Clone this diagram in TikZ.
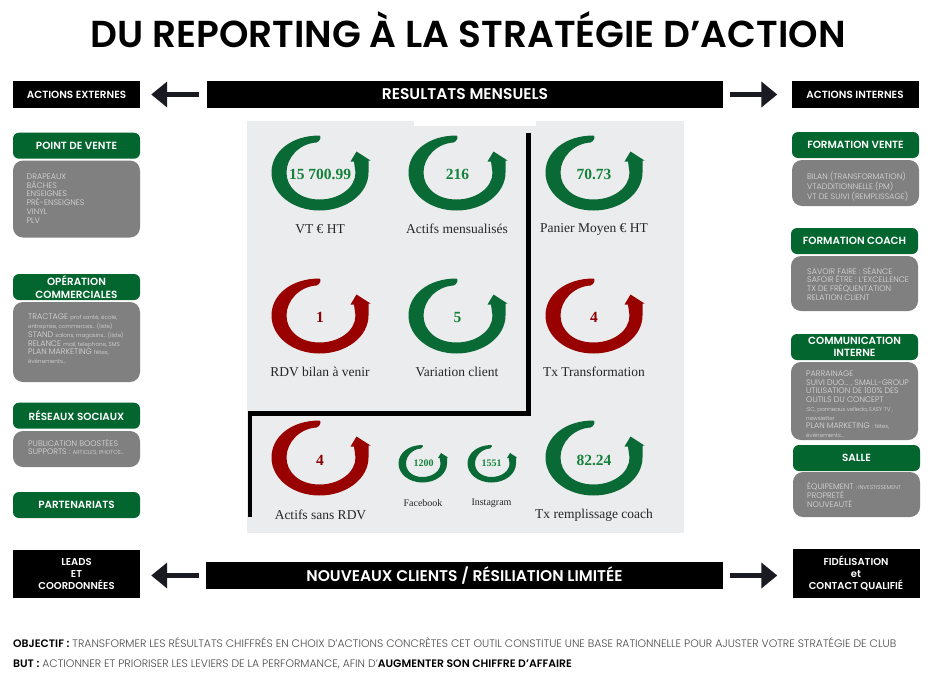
\documentclass[tikz,border=0pt]{standalone}
\usepackage{fontspec}
\setmainfont{Poppins}
\newfontfamily\semi{Poppins SemiBold}
\newfontfamily\med{Poppins Medium}
\newfontfamily\lite{Poppins Light}
\newfontfamily\serifx{Liberation Serif}
\usetikzlibrary{arrows.meta}
\definecolor{boxgreen}{HTML}{03662F}
\definecolor{ringgreen}{HTML}{0A6A35}
\definecolor{ringred}{HTML}{990000}
\definecolor{numgreen}{HTML}{14823A}
\definecolor{numred}{HTML}{8B0000}
\definecolor{panelgrey}{HTML}{EBECEE}
\definecolor{boxgrey}{HTML}{808080}
\definecolor{softtext}{HTML}{DCDCDC}
\definecolor{arrowink}{HTML}{1A1A22}
\definecolor{bodyink}{HTML}{4A4A4A}
\newcommand{\fsz}[1]{\fontsize{#1}{#1}\selectfont}
\newcommand{\sm}[1]{{\fontsize{5.6}{8.7}\selectfont #1}}
\newcommand{\ringshape}[4]{%
  \begin{scope}[shift={(#1,#2)},scale=#3]
  \fill[#4] (0,-37) .. controls (-28,-37) and (-48,-21) .. (-48,0)
    .. controls (-48,21) and (-27,38) .. (0,38)
    .. controls (27,38) and (49,21) .. (49,0)
    -- (49,-12) -- (51,-12) -- (37,-21) -- (31,-11) -- (34.5,-11) -- (36,0)
    .. controls (36,15) and (20,27) .. (0,27)
    .. controls (-20,27) and (-33,15) .. (-33,0)
    .. controls (-33,-15) and (-20,-29) .. (-3,-30)
    .. controls (1,-31) and (2,-37) .. (0,-37) -- cycle;
  \end{scope}}
\tikzset{
  blackbar/.style={fill=black,text=white,inner sep=0pt,align=center,font=\semi\fsz{#1}},
  blackbar/.default=10,
  tallbar/.style={fill=black,text=white,inner sep=0pt,align=center,minimum width=127pt,
     font=\semi\fontsize{10}{11.9}\selectfont},
  greenbox/.style={fill=boxgreen,text=white,rounded corners=6pt,inner sep=0pt,align=center,
     minimum width=127pt,minimum height=26pt,font=\semi\fontsize{10.4}{12.2}\selectfont},
  greybox/.style={fill=boxgrey,rounded corners=10pt,inner sep=0pt,minimum width=127pt},
  softlist/.style={anchor=north west,text=softtext,inner sep=0pt,align=left,
     font=\lite\fontsize{8}{8.75}\selectfont},
  metric/.style={font=\serifx\fontsize{13.5}{14}\selectfont,text=black!85,inner sep=0pt},
  minimetric/.style={font=\serifx\fontsize{10}{11}\selectfont,text=black!85,inner sep=0pt},
  valgreen/.style={font=\serifx\bfseries\fontsize{15.5}{16}\selectfont,text=numgreen,inner sep=0pt},
  valred/.style={font=\serifx\bfseries\fontsize{15.5}{16}\selectfont,text=numred,inner sep=0pt},
  minival/.style={font=\serifx\bfseries\fontsize{10}{11}\selectfont,text=numgreen,inner sep=0pt},
  blockarrow/.style={draw=arrowink,line width=5pt,-{Triangle[length=16pt,width=25pt]}},
  footer/.style={anchor=base west,inner sep=0pt,text=bodyink,font=\lite\fsz{10.85}},
}
\begin{document}
\begin{tikzpicture}[x=1pt,y=-1pt]
\useasboundingbox (0,0) rectangle (931,675);
\fill[white] (0,0) rectangle (931,675);

\node[inner sep=0pt,font=\semi\fsz{37.5}] (title) at (468,29.5) {DU REPORTING À LA STRATÉGIE D’ACTION};

% panel
\fill[panelgrey] (247,121) rectangle (684,533);
\fill[white] (414,121) rectangle (536,126);
\draw[black,line width=4.8pt] (528.5,133) |- (250,413.5) -- (250,517);

% header bars
\node[blackbar=15.5,minimum width=516pt,minimum height=27pt] (res) at (465,94.5) {RESULTATS MENSUELS};
\node[blackbar=15.5,minimum width=517pt,minimum height=27pt] (nouv) at (464.5,575.5) {NOUVEAUX CLIENTS / RÉSILIATION LIMITÉE};
\node[blackbar=10.4,minimum width=127pt,minimum height=27pt] (ext) at (76.5,94.5) {ACTIONS EXTERNES};
\node[blackbar=10.4,minimum width=127pt,minimum height=27pt] (int) at (855,94.5) {ACTIONS INTERNES};
\node[tallbar,minimum height=48pt] (leads) at (76.5,574) {LEADS\\ET\\COORDONNÉES};
\node[tallbar,minimum height=49pt] (fid) at (856,573.5) {FIDÉLISATION\\et\\CONTACT QUALIFIÉ};

% arrows
\draw[blockarrow,shorten <=8pt,shorten >=11pt] (res.west) -- (ext.east);
\draw[blockarrow,shorten <=7pt,shorten >=14pt] (res.east) -- (int.west);
\draw[blockarrow,shorten <=7pt,shorten >=11pt] (nouv.west) -- (leads.east |- nouv.west);
\draw[blockarrow,shorten <=7pt,shorten >=15pt] (nouv.east) -- (fid.west |- nouv.east);

% left column
\node[greenbox] (pv) at (76.5,145.7) {POINT DE VENTE};
\node[greybox,minimum height=77pt] (pvb) at (76.5,199) {};
\node[softlist] (pvt) at (26.5,173.5) {DRAPEAUX\\BÂCHES\\ENSEIGNES\\PRÉ-ENSEIGNES\\VINYL\\PLV};

\node[greenbox] (op) at (76.5,287) {OPÉRATION\\COMMERCIALES};
\node[greybox,minimum height=80pt] (opb) at (76.5,342) {};
\node[softlist] (opt) at (28,314) {TRACTAGE \sm{prof santé, école,}\\\sm{entreprise, commerces… (liste)}\\STAND \sm{salons, magasins… (liste)}\\RELANCE \sm{mail, telephone, SMS}\\PLAN MARKETING \sm{fêtes,}\\\sm{événements…}};

\node[greenbox] (rs) at (76.5,415.7) {RÉSEAUX SOCIAUX};
\node[greybox,minimum height=36pt] (rsb) at (76.5,449) {};
\node[softlist] (rst) at (28,438.5) {PUBLICATION BOOSTÉES\\SUPPORTS : \sm{ARTICLES, PHOTOS…}};

\node[greenbox] (pa) at (76.5,505) {PARTENARIATS};

% right column
\node[greenbox] (fv) at (855.5,145) {FORMATION VENTE};
\node[greybox,minimum height=46pt] (fvb) at (855.5,183) {};
\node[softlist] (fvt) at (807,171.5) {BILAN (TRANSFORMATION)\\VTADDITIONNELLE (PM)\\VT DE SUIVI (REMPLISSAGE)};

\node[greenbox] (fc) at (854.5,241) {FORMATION COACH};
\node[greybox,minimum height=55pt] (fcb) at (854.5,283.5) {};
\node[softlist] (fct) at (807,266.5) {SAVOIR FAIRE : SÉANCE\\SAFOIR ÊTRE : L’EXCELLENCE\\TX DE FRÉQUENTATION\\RELATION CLIENT};

\node[greenbox] (ci) at (854.5,347) {COMMUNICATION\\INTERNE};
\node[greybox,minimum height=78pt] (cib) at (854.5,401) {};
\node[softlist] (cit) at (806,370.5) {PARRAINAGE\\SUIVI DUO… , SMALL-GROUP\\UTILISATION DE 100\% DES\\OUTILS DU CONCEPT\\\sm{:SC, panneaux velleda, EASY TV ,}\\\sm{newsletter}\\PLAN MARKETING \sm{: fêtes,}\\\sm{événements…}};

\node[greenbox] (sa) at (856.5,458) {SALLE};
\node[greybox,minimum height=45pt] (sab) at (856.5,494.5) {};
\node[softlist] (sat) at (807,482) {ÉQUIPEMENT \sm{: INVESTISSEMENT}\\PROPRETÉ\\NOUVEAUTÉ};

% rings
\ringshape{319.5}{172.5}{1}{ringgreen}
\ringshape{456.5}{172.5}{1}{ringgreen}
\ringshape{593.5}{172.5}{1}{ringgreen}
\ringshape{319.5}{315.5}{1}{ringred}
\ringshape{456.5}{315.5}{1}{ringgreen}
\ringshape{593.5}{315.5}{1}{ringred}
\ringshape{319.5}{457.5}{1}{ringred}
\ringshape{422.5}{463.5}{0.5}{ringgreen}
\ringshape{491.5}{463.5}{0.5}{ringgreen}
\ringshape{593.5}{457.5}{1}{ringgreen}

\node[valgreen] (v1) at (320,174.5) {15 700.99};
\node[valgreen] (v2) at (457.5,174.5) {216};
\node[valgreen] (v3) at (594,174.5) {70.73};
\node[valred] (v4) at (320,317) {1};
\node[valgreen] (v5) at (457.5,317) {5};
\node[valred] (v6) at (594,317) {4};
\node[valred] (v7) at (320,460) {4};
\node[minival] (v8) at (423.5,463) {1200};
\node[minival] (v9) at (491.5,463) {1551};
\node[valgreen] (v10) at (594,460) {82.24};

\node[metric] (m1) at (320,229) {VT € HT};
\node[metric] (m2) at (457,229) {Actifs mensualisés};
\node[metric] (m3) at (594,229) {Panier Moyen € HT};
\node[metric] (m4) at (320,372) {RDV bilan à venir};
\node[metric] (m5) at (457,372) {Variation client};
\node[metric] (m6) at (594,372) {Tx Transformation};
\node[metric] (m7) at (320.5,515) {Actifs sans RDV};
\node[minimetric] (m8) at (423,503) {Facebook};
\node[minimetric] (m9) at (491.5,503.5) {Instagram};
\node[metric] (m10) at (594,515) {Tx remplissage coach};

% footer
\node[footer] (obj) at (13,647) {{\semi\color{black}OBJECTIF :} TRANSFORMER LES RÉSULTATS CHIFFRÉS EN CHOIX D’ACTIONS CONCRÈTES CET OUTIL CONSTITUE UNE BASE RATIONNELLE POUR AJUSTER VOTRE STRATÉGIE DE CLUB};
\node[footer] (but) at (13,667) {{\semi\color{black}BUT :} ACTIONNER ET PRIORISER LES LEVIERS DE LA PERFORMANCE, AFIN D’{\semi\color{black}AUGMENTER SON CHIFFRE D’AFFAIRE}};
\end{tikzpicture}
\end{document}
